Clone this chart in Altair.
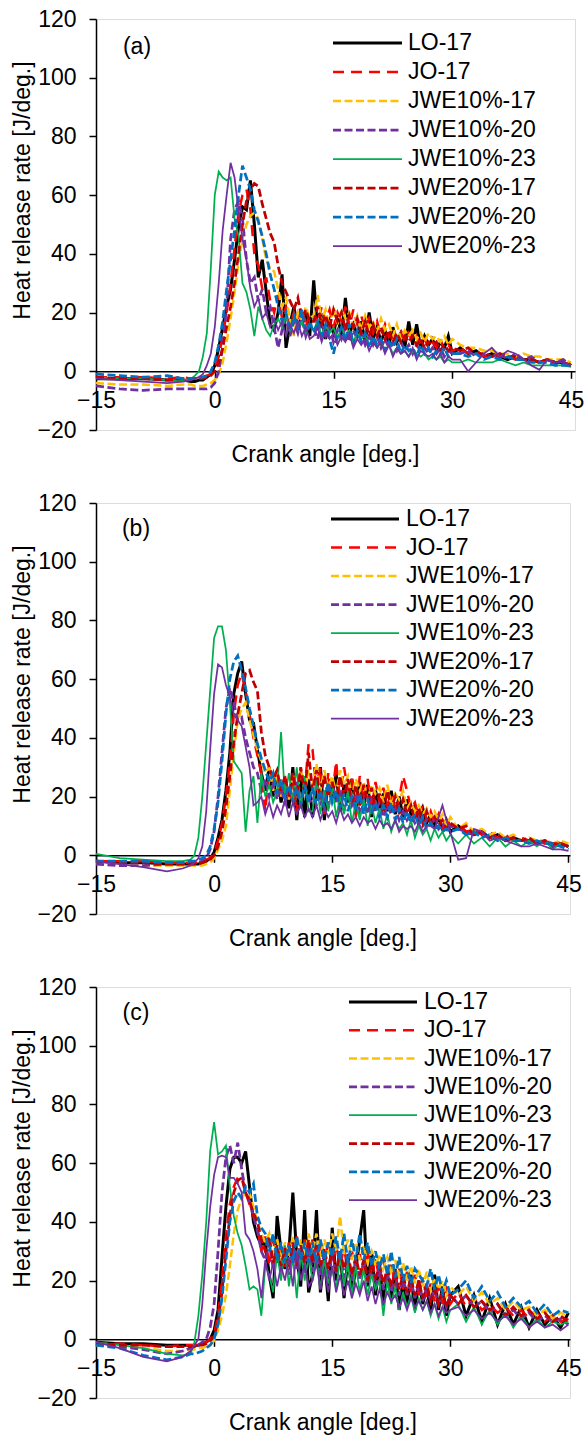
import altair as alt
import pandas as pd

FONT = "Liberation Sans"

# crank angle grid [deg.] shared by every series
X = [-15, -12, -9, -6, -4, -3,
     -2.5, -2, -1.5, -1, -0.5, 0, 0.5, 1, 1.5, 2,
     2.5, 3, 3.5, 4, 4.5, 5, 5.5, 6, 6.5, 7,
     7.5, 8, 8.5, 9, 9.5, 10, 10.5, 11, 11.5, 12,
     12.5, 13, 13.5, 14, 14.5, 15,
     15.5, 16, 16.5, 17, 17.5, 18,
     18.5, 19, 19.5, 20, 20.5, 21,
     21.5, 22, 22.5, 23, 23.5, 24,
     24.5, 25, 25.5, 26, 26.5, 27,
     27.5, 28, 28.5, 29, 29.5, 30,
     31, 32, 33, 34, 35,
     36, 37, 38, 39, 40,
     41, 42, 43, 44, 45]

SERIES = ["LO-17", "JO-17", "JWE10%-17", "JWE10%-20", "JWE10%-23",
          "JWE20%-17", "JWE20%-20", "JWE20%-23"]
COLORS = ["#000000", "#FF0000", "#FFC000", "#7030A0", "#00B050",
          "#C00000", "#0070C0", "#7030A0"]
DASHES = [None, [11, 7], [8, 3.5], [8, 3.5], None, [8, 3.5], [8, 3.5], None]
WIDTHS = [3, 2.5, 2.5, 2.75, 1.75, 2.75, 2.75, 1.75]

PANEL_TAGS = ["(a)", "(b)", "(c)"]
Y_TICKS = [-20, 0, 20, 40, 60, 80, 100, 120]
X_TICKS = [-15, 0, 15, 30, 45]

# ---------------- panel (a) ----------------
A_LO17 = [-2.5, -2.5, -2.5, -3, -3, -3.5,
          -3.5, -3, -3, -2, -1, 2, 8, 15, 22, 28,
          38, 49, 56, 55, 65, 50, 32, 38, 27, 16,
          14, 20, 33, 8, 16, 22, 14, 19, 20, 12,
          31, 14, 18, 11, 17, 13,
          19, 12, 25, 13, 16, 12,
          17, 10, 20, 11, 15, 10,
          14, 9, 15, 10, 13, 8,
          17, 9, 16, 8, 12, 9,
          11, 7, 10, 8, 12, 6,
          8, 6, 7, 5, 6,
          5, 4, 5, 4, 4,
          3, 4, 3, 3, 2]
A_JO17 = [-2, -2, -2, -2.5, -2, -2.5,
          -2.5, -2, -2, -1.5, -1, 1, 5, 12, 20, 30,
          42, 54, 60, 62, 55, 40, 36, 28, 32, 24,
          20, 26, 18, 22, 15, 20, 17, 22, 15, 20,
          20, 16, 22, 17, 21, 15,
          20, 17, 22, 15, 21, 16,
          19, 14, 18, 13, 17, 12,
          16, 12, 15, 11, 14, 10,
          13, 10, 12, 9, 11, 8,
          10, 8, 11, 7, 9, 7,
          8, 6, 7, 5, 6,
          5, 5, 4, 5, 4,
          3, 4, 3, 3, 2]
A_JWE10_17 = [-4, -4.5, -4.5, -5, -4.5, -4.5,
              -5, -5, -5, -4.5, -4, -3, -1, 3, 10, 18,
              27, 37, 45, 50, 53, 54, 52, 45, 38, 35,
              34, 28, 22, 25, 18, 12, 20, 17, 22, 18,
              19, 26, 17, 21, 15, 22,
              16, 21, 18, 20, 15, 19,
              14, 19, 15, 17, 13, 18,
              14, 16, 12, 16, 11, 14,
              12, 14, 11, 13, 10, 13,
              11, 12, 10, 12, 9, 11,
              9, 8, 8, 7, 7,
              6, 6, 5, 6, 5,
              5, 4, 4, 4, 3]
A_JWE10_20 = [-5, -6, -6.5, -6, -6, -6,
              -6, -6, -6, -6, -5.5, -4, 0, 8, 22, 45,
              55, 58, 52, 38, 30, 32, 24, 28, 20, 22,
              15, 8, 14, 18, 12, 17, 13, 18, 12, 16,
              15, 11, 16, 12, 15, 10,
              14, 11, 15, 10, 14, 11,
              13, 9, 12, 9, 12, 8,
              11, 8, 10, 7, 10, 7,
              9, 6, 9, 7, 8, 6,
              8, 6, 8, 5, 7, 6,
              6, 7, 5, 6, 5,
              6, 4, 6, 4, 5,
              3, 4, 3, 4, 2]
A_JWE10_23 = [-2, -2.5, -2.5, -3, -3, -2.5,
              -1.5, 0, 5, 13, 35, 60, 68, 66, 65, 66,
              52, 46, 30, 27, 21, 12, 22, 18, 14, 12,
              16, 18, 15, 19, 14, 18, 15, 17, 13, 16,
              14, 17, 12, 16, 13, 15,
              11, 15, 12, 14, 10, 13,
              11, 12, 9, 11, 8, 10,
              7, 9, 6, 8, 6, 7,
              5, 7, 6, 5, 6, 4,
              5, 4, 5, 3, 4, 3,
              3, 4, 3, 3, 3,
              4, 3, 2, 3, 2,
              2, 2, 2, 2, 1.5]
A_JWE20_17 = [-2, -2.5, -2.5, -3, -2.5, -2.5,
              -2.5, -2.5, -2.5, -2, -1.5, 0, 3, 8, 15, 22,
              30, 40, 50, 58, 62, 64, 63, 57, 52, 47,
              44, 36, 30, 27, 24, 21, 25, 18, 21, 17,
              17, 22, 16, 19, 15, 21,
              17, 20, 14, 19, 15, 18,
              13, 17, 12, 16, 12, 15,
              11, 14, 10, 13, 10, 12,
              10, 12, 9, 11, 8, 10,
              9, 10, 7, 9, 7, 8,
              7, 8, 6, 6, 5,
              6, 5, 5, 4, 4,
              3, 4, 3, 3, 2]
A_JWE20_20 = [-1, -1.5, -2, -1.5, -2.5, -2.5,
              -2.5, -2, -2, -1.5, 0, 3, 9, 17, 28, 38,
              48, 60, 70, 66, 62, 55, 51, 46, 40, 33,
              28, 22, 17, 20, 14, 19, 15, 21, 13, 17,
              13, 17, 12, 16, 11, 6,
              12, 15, 10, 16, 9, 14,
              10, 13, 8, 12, 9, 11,
              7, 10, 8, 11, 6, 9,
              7, 8, 5, 9, 6, 8,
              5, 7, 6, 8, 5, 6,
              6, 5, 6, 4, 5,
              4, 5, 4, 4, 3,
              3, 3, 2, 2, 2]
A_JWE20_23 = [-2.5, -3, -3.5, -4, -3.5, -3,
              -2.5, -2, -1, 2, 6, 15, 30, 48, 60, 71,
              66, 55, 45, 38, 28, 22, 25, 18, 20, 15,
              18, 14, 17, 12, 16, 13, 17, 12, 15, 11,
              12, 15, 10, 14, 11, 13,
              9, 12, 10, 13, 8, 11,
              9, 11, 7, 10, 8, 10,
              6, 9, 5, 8, 6, 7,
              5, 8, 4, 7, 6, 5,
              6, 4, 6, 3, 5, 4,
              4, 0, 3, 6, 8,
              5, 7, 6, 4, 2,
              0.5, 4, 3, 3, 2]

# ---------------- panel (b) ----------------
B_LO17 = [-2, -2.5, -2.5, -3, -3, -3,
          -3, -3, -2.5, -2, -1, 1, 6, 12, 22, 35,
          55, 62, 66, 55, 46, 45, 36, 28, 22, 30,
          20, 28, 18, 25, 16, 30, 12, 28, 13, 26,
          13, 22, 30, 12, 26, 20,
          28, 15, 24, 18, 26, 14,
          25, 17, 24, 13, 22, 16,
          21, 15, 22, 14, 20, 13,
          19, 14, 17, 12, 16, 11,
          14, 10, 13, 9, 12, 8,
          10, 8, 7, 8, 6,
          7, 5, 6, 5, 5,
          4, 5, 3, 4, 3]
B_JO17 = [-2, -2, -2, -2.5, -2.5, -2.5,
          -2.5, -2.5, -2, -1.5, -1, 1, 5, 11, 20, 32,
          48, 58, 62, 56, 48, 40, 34, 28, 15, 30,
          24, 28, 20, 27, 18, 26, 14, 30, 22, 38,
          36, 22, 30, 14, 28, 20,
          32, 18, 30, 22, 26, 13,
          27, 19, 26, 16, 25, 18,
          23, 17, 21, 15, 19, 27,
          22, 16, 18, 13, 17, 12,
          15, 11, 14, 9, 13, 10,
          11, 8, 9, 7, 8,
          6, 7, 5, 6, 5,
          5, 4, 5, 4, 4]
B_JWE10_17 = [-3, -3, -3.5, -3.5, -3.5, -3.5,
              -3.5, -3.5, -3.5, -3, -2.5, -1, 2, 5, 10, 22,
              35, 46, 50, 52, 46, 41, 36, 32, 28, 30,
              22, 28, 20, 26, 19, 28, 20, 30, 22, 28,
              24, 31, 22, 29, 23, 27,
              21, 29, 24, 27, 20, 26,
              22, 25, 19, 24, 21, 23,
              18, 24, 17, 21, 19, 22,
              16, 18, 15, 17, 14, 16,
              13, 15, 12, 14, 10, 13,
              9, 11, 8, 9, 7,
              8, 6, 7, 5, 6,
              5, 5, 4, 5, 4]
B_JWE10_20 = [-3, -3.5, -3.5, -3, -3, -3,
              -3, -2.5, -2, -1, 2, 8, 20, 35, 50, 57,
              52, 46, 47, 40, 35, 30, 28, 22, 26, 20,
              24, 19, 23, 18, 22, 20, 25, 17, 24, 19,
              18, 24, 17, 22, 16, 24,
              18, 21, 15, 22, 17, 20,
              15, 19, 14, 20, 15, 18,
              13, 17, 14, 16, 12, 15,
              12, 14, 11, 13, 10, 12,
              11, 12, 9, 11, 8, 10,
              9, 8, 7, 8, 6,
              7, 5, 6, 5, 5,
              4, 5, 3, 4, 3]
B_JWE10_23 = [0.5, -1, -1.5, -2, -2, -1.5,
              0, 6, 20, 38, 56, 74, 78, 78, 70, 52,
              32, 30, 28, 8, 22, 27, 11, 28, 20, 24,
              18, 22, 42, 20, 28, 18, 30, 16, 27, 15,
              15, 26, 14, 22, 15, 24,
              13, 20, 14, 22, 11, 18,
              12, 19, 10, 17, 11, 16,
              9, 14, 8, 12, 9, 11,
              7, 12, 6, 10, 7, 9,
              5, 9, 6, 8, 5, 7,
              4, 7, 4, 6, 3,
              6, 3, 5, 3, 5,
              3, 5, 2, 4, 3]
B_JWE20_17 = [-2, -2.5, -2.5, -3, -3, -3,
              -3, -3, -2.5, -2, -1.5, 0, 3, 8, 16, 27,
              38, 48, 55, 62, 63, 59, 56, 42, 34, 30,
              26, 29, 22, 27, 20, 28, 20, 30, 21, 35,
              22, 29, 19, 27, 20, 25,
              19, 27, 20, 26, 18, 24,
              17, 24, 18, 23, 16, 21,
              15, 22, 16, 20, 14, 19,
              14, 17, 12, 16, 11, 15,
              11, 13, 10, 12, 9, 11,
              9, 10, 7, 8, 6,
              7, 5, 6, 5, 6,
              4, 5, 4, 4, 3]
B_JWE20_20 = [-2, -2, -2, -2.5, -2.5, -2,
              -2, -1.5, -1, 0, 3, 9, 18, 32, 48, 60,
              66, 68, 63, 57, 50, 44, 38, 33, 29, 25,
              28, 21, 26, 19, 24, 18, 23, 17, 24, 18,
              23, 17, 22, 16, 25, 18,
              22, 16, 21, 15, 20, 16,
              21, 14, 19, 15, 18, 13,
              17, 13, 18, 12, 16, 11,
              15, 11, 14, 10, 13, 9,
              11, 9, 10, 8, 9, 8,
              9, 7, 8, 6, 7,
              5, 6, 5, 5, 4,
              5, 4, 4, 3, 2]
B_JWE20_23 = [-2, -3, -4, -5.5, -4.5, -3.5,
              -2.5, -1, 3, 15, 36, 55, 65, 64, 58, 54,
              48, 46, 44, 37, 30, 17, 18, 20, 14, 18,
              13, 17, 14, 19, 13, 18, 14, 17, 13, 16,
              13, 17, 12, 16, 13, 15,
              11, 16, 12, 14, 11, 13,
              10, 13, 11, 12, 9, 12,
              10, 11, 9, 12, 8, 10,
              9, 10, 8, 11, 8, 10,
              10, 9, 13, 17, 12, 8,
              -1.5, -1, 9, 8, 5,
              6, 5, 4, 3, 3,
              4, 3, 2, 2, 1.5]

# ---------------- panel (c) ----------------
C_LO17 = [-1, -1.5, -1.5, -2, -2, -2,
          -2, -2, -1.5, -1, 0, 3, 10, 28, 45, 58,
          62, 62, 60, 64, 52, 40, 35, 32, 33, 22,
          14, 42, 30, 24, 30, 50, 28, 18, 44, 16,
          22, 44, 16, 28, 13, 38,
          20, 30, 14, 28, 16, 24,
          34, 44, 18, 30, 15, 26,
          12, 22, 14, 24, 10, 20,
          12, 22, 10, 20, 12, 18,
          9, 22, 10, 18, 8, 15,
          18, 8, 15, 6, 14,
          5, 12, 5, 11, 4,
          10, 5, 8, 4, 9]
C_JO17 = [-1.5, -1.5, -2, -2.5, -2, -2,
          -2, -2, -1.5, -1, 0, 2, 8, 20, 35, 46,
          52, 55, 56, 50, 46, 42, 38, 30, 35, 25,
          34, 26, 32, 24, 33, 25, 35, 26, 34, 27,
          34, 26, 33, 25, 34, 27,
          32, 25, 31, 23, 30, 24,
          29, 22, 31, 21, 28, 20,
          27, 19, 26, 18, 24, 17,
          23, 16, 22, 15, 21, 14,
          19, 13, 18, 12, 17, 12,
          16, 11, 14, 10, 12,
          9, 11, 8, 10, 7,
          9, 6, 8, 6, 7]
C_JWE10_17 = [-2, -2.5, -3, -4, -4, -3.5,
              -3.5, -3, -3, -2.5, -2, -0.5, 3, 8, 15, 25,
              36, 44, 48, 50, 50, 45, 40, 36, 33, 36,
              28, 34, 27, 33, 28, 35, 27, 34, 28, 36,
              30, 36, 28, 34, 29, 36,
              30, 42, 29, 34, 27, 33,
              27, 32, 26, 30, 25, 29,
              24, 28, 22, 27, 21, 26,
              20, 25, 19, 24, 18, 23,
              16, 21, 17, 20, 15, 18,
              15, 18, 13, 16, 12,
              14, 10, 13, 10, 11,
              8, 10, 7, 9, 8]
C_JWE10_20 = [-1.5, -2.5, -3.5, -5, -4, -3,
              -2.5, -2, -1, 0, 4, 12, 30, 50, 62, 66,
              60, 67, 58, 50, 47, 42, 37, 30, 27, 33,
              24, 31, 23, 30, 22, 32, 24, 30, 22, 31,
              23, 31, 22, 30, 21, 29,
              22, 30, 21, 28, 20, 27,
              20, 27, 19, 25, 18, 24,
              17, 23, 16, 22, 15, 21,
              15, 20, 14, 19, 13, 18,
              13, 17, 12, 16, 11, 15,
              12, 15, 11, 13, 9,
              12, 8, 10, 7, 9,
              6, 8, 6, 7, 5]
C_JWE10_23 = [-1, -2, -3, -5, -5.5, -5,
              -1, 8, 22, 40, 64, 74, 63, 64, 66, 52,
              42, 36, 32, 25, 17, 18, 17, 8, 25, 22,
              16, 30, 20, 32, 18, 28, 14, 30, 20, 28,
              20, 28, 17, 27, 19, 24,
              17, 28, 18, 26, 15, 25,
              16, 24, 15, 22, 17, 20,
              8, 20, 12, 18, 10, 16,
              11, 15, 9, 14, 10, 13,
              8, 12, 7, 11, 6, 10,
              12, 6, 11, 5, 10,
              5, 9, 4, 8, 4,
              7, 4, 6, 5, 6]
C_JWE20_17 = [-1.5, -2, -2, -2.5, -2.5, -2.5,
              -2.5, -2, -2, -1.5, -0.5, 1, 6, 16, 30, 42,
              50, 54, 55, 50, 47, 43, 40, 34, 30, 35,
              26, 32, 25, 31, 24, 33, 25, 32, 26, 34,
              26, 32, 25, 31, 24, 31,
              23, 30, 24, 29, 22, 28,
              22, 27, 20, 26, 21, 25,
              19, 24, 18, 23, 17, 22,
              16, 21, 15, 20, 14, 19,
              13, 17, 12, 16, 11, 15,
              12, 15, 11, 13, 10,
              12, 8, 11, 8, 10,
              7, 9, 6, 8, 6]
C_JWE20_20 = [-2, -3, -5.5, -7, -6, -5,
              -5, -4.5, -4, -3, -2, 0, 5, 14, 27, 40,
              47, 50, 48, 52, 50, 53, 42, 38, 36, 30,
              36, 27, 33, 26, 32, 26, 35, 27, 33, 26,
              33, 26, 34, 27, 33, 28,
              35, 27, 36, 26, 34, 27,
              36, 27, 33, 25, 30, 24,
              29, 22, 30, 21, 28, 20,
              25, 19, 24, 22, 20, 18,
              24, 17, 22, 16, 20, 15,
              17, 20, 14, 18, 13,
              16, 11, 14, 11, 13,
              9, 12, 8, 10, 9]
C_JWE20_23 = [-1, -3, -6, -7.5, -6, -4,
              -2, 0, 12, 30, 45, 56, 62, 62.5, 62, 55,
              55, 53, 50, 36, 34, 30, 24, 14, 27, 20,
              26, 18, 25, 20, 28, 18, 30, 20, 26, 18,
              20, 26, 17, 24, 16, 25,
              16, 22, 15, 20, 14, 19,
              15, 20, 13, 18, 12, 17,
              12, 16, 13, 15, 11, 14,
              10, 14, 11, 13, 10, 13,
              9, 12, 8, 11, 9, 10,
              11, 8, 10, 7, 9,
              6, 8, 5, 7, 4,
              6, 4, 5, 3, 5]

PANEL_SERIES = [
    [A_LO17, A_JO17, A_JWE10_17, A_JWE10_20, A_JWE10_23, A_JWE20_17, A_JWE20_20, A_JWE20_23],
    [B_LO17, B_JO17, B_JWE10_17, B_JWE10_20, B_JWE10_23, B_JWE20_17, B_JWE20_20, B_JWE20_23],
    [C_LO17, C_JO17, C_JWE10_17, C_JWE10_20, C_JWE10_23, C_JWE20_17, C_JWE20_20, C_JWE20_23],
]

# layout (pixels, relative to each plot area)
LAYOUT = [
    dict(width=479, xmax=45.5, tag_x=41, tag_y=28, leg_y0=24, leg_step=29, rx0=237, rx1=306, tx=312),
    dict(width=474, xmax=45.2, tag_x=40, tag_y=26, leg_y0=16, leg_step=28.5, rx0=235, rx1=303, tx=310),
    dict(width=474, xmax=45.2, tag_x=40, tag_y=26, leg_y0=15, leg_step=28.3, rx0=253, rx1=321, tx=328),
]
HEIGHT = 411

for grp in PANEL_SERIES:
    for s in grp:
        assert len(s) == len(X), len(s)


def make_panel(tag, series_lists, lay):
    x_scale = alt.Scale(domain=[-15, lay["xmax"]], nice=False, zero=False)
    y_scale = alt.Scale(domain=[-20, 120], nice=False, zero=False)
    x_axis = alt.Axis(values=X_TICKS, orient="bottom", offset=-(HEIGHT * 20 / 140),
                      tickSize=7, tickColor="black", tickWidth=1.5,
                      domainColor="black", domainWidth=1.5,
                      labelFontSize=23, labelFont=FONT, labelColor="black",
                      labelPadding=11, labelFlush=False, labelOverlap=False,
                      grid=False, title=None)
    y_axis = alt.Axis(values=Y_TICKS, tickSize=7, tickColor="black", tickWidth=1.5,
                      domainColor="black", domainWidth=1.5,
                      labelFontSize=23, labelFont=FONT, labelColor="black",
                      labelPadding=13, grid=False,
                      title="Heat release rate [J/deg.]", titleFontSize=23,
                      titleFont=FONT, titleFontWeight="normal", titleColor="black",
                      titleX=-74, titleY=171, titleAngle=270,
                      titleBaseline="middle", titleAlign="center")
    layers = []
    for i, (name, vals) in enumerate(zip(SERIES, series_lists)):
        df = pd.DataFrame({"angle": X, "hrr": vals, "series": name})
        kw = dict(color=COLORS[i], strokeWidth=WIDTHS[i], clip=True)
        if DASHES[i] is not None:
            kw["strokeDash"] = DASHES[i]
        layers.append(
            alt.Chart(df).mark_line(**kw).encode(
                x=alt.X("angle:Q", scale=x_scale, axis=x_axis),
                y=alt.Y("hrr:Q", scale=y_scale, axis=y_axis),
            )
        )
    # legend drawn inside the plot
    for i, name in enumerate(SERIES):
        ldf = pd.DataFrame({"label": [name], "ypx": [lay["leg_y0"] + i * lay["leg_step"]]})
        kw = dict(color=COLORS[i], strokeWidth=WIDTHS[i])
        if DASHES[i] is not None:
            kw["strokeDash"] = DASHES[i]
        layers.append(
            alt.Chart(ldf).mark_rule(**kw).encode(
                x=alt.value(lay["rx0"]), x2=alt.value(lay["rx1"]),
                y=alt.Y("ypx:Q", scale=None),
            )
        )
    tdf = pd.DataFrame({"label": SERIES,
                        "ypx": [lay["leg_y0"] + i * lay["leg_step"] for i in range(len(SERIES))]})
    layers.append(
        alt.Chart(tdf).mark_text(align="left", baseline="middle", fontSize=23,
                                 font=FONT, color="black").encode(
            x=alt.value(lay["tx"]), y=alt.Y("ypx:Q", scale=None), text="label:N")
    )
    gdf = pd.DataFrame({"tag": [tag]})
    layers.append(
        alt.Chart(gdf).mark_text(align="center", baseline="middle", fontSize=23,
                                 font=FONT, color="black").encode(
            x=alt.value(lay["tag_x"]), y=alt.value(lay["tag_y"]), text="tag:N")
    )
    return alt.layer(*layers).properties(
        width=lay["width"], height=HEIGHT,
        title=alt.TitleParams("Crank angle [deg.]", orient="bottom", fontSize=23,
                              font=FONT, fontWeight="normal", color="black",
                              anchor="middle", frame="group", dx=-10, offset=2),
    )


panels = [make_panel(t, s, l) for t, s, l in zip(PANEL_TAGS, PANEL_SERIES, LAYOUT)]

chart = alt.vconcat(*panels, spacing=73, bounds="flush").properties(
    padding={"left": 10, "top": 7, "right": 0, "bottom": 0}
).configure_view(stroke="#8c8c8c", strokeWidth=1).configure(font=FONT)

chart.save("out.html", embed_options={"renderer": "svg", "actions": False})
